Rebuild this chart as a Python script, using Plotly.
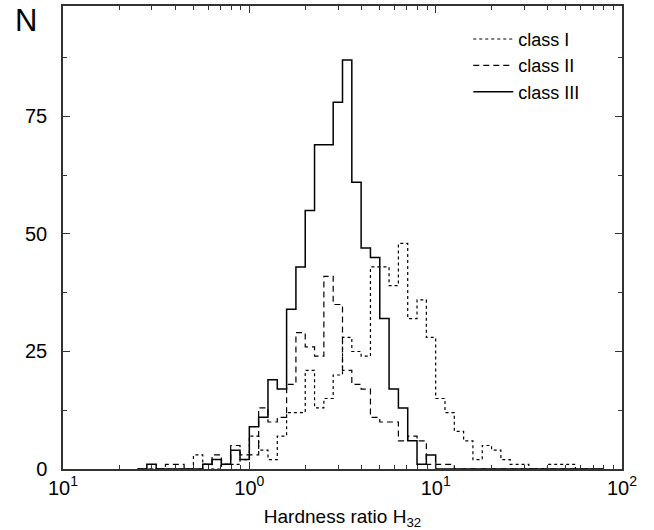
import plotly.graph_objects as go

# log10 bin index k (bin = [k*0.05, (k+1)*0.05] in log10 H32), k from -12 to 37
k_start = -12
bin_dex = 0.05

class_I = [0, 0, 0, 0, 0, 0, 3, 1, 0, 1, 1, 2,
           7, 4, 2, 7, 12, 12, 21, 13, 15, 20,
           28, 25, 24, 43, 43, 39, 48, 32, 36, 28,
           15, 12, 8, 6, 2, 5, 4, 2, 1, 1,
           0, 0, 1, 1, 1, 0, 0, 0]
class_II = [0, 0, 0, 1, 1, 0, 0, 1, 3, 1, 5, 3,
            3, 13, 10, 11, 18, 29, 26, 24, 41, 35,
            21, 18, 17, 11, 10, 10, 6, 7, 6, 1,
            1, 1, 0, 0, 0, 0, 0, 0, 0, 0,
            0, 0, 0, 0, 0, 0, 0, 0]
class_III = [0, 1, 0, 0, 0, 0, 0, 1, 2, 1, 4, 2,
             9, 11, 19, 17, 34, 43, 55, 69, 69, 78,
             87, 61, 47, 45, 32, 17, 13, 6, 1, 3,
             0, 0, 0, 0, 0, 0, 0, 0, 0, 0,
             0, 0, 0, 0, 0, 0, 0, 0]

series_names = ["class I", "class II", "class III"]
x_tickvals = [0.1, 1, 10, 100]
x_ticktext = ["10<sup>1</sup>", "10<sup>0</sup>", "10<sup>1</sup>", "10<sup>2</sup>"]
y_tickvals = [0, 25, 50, 75]
y_ticktext = ["0", "25", "50", "75"]

n = len(class_III)
edges = [10 ** ((k_start + i) * bin_dex) for i in range(n + 1)]

FONT = "Liberation Sans, Arial, Helvetica, sans-serif"
fig = go.Figure()
styles = [dict(dash="dot", width=1.2), dict(dash="6px,4px", width=1.2), dict(dash="solid", width=1.5)]
for name, vals, st in zip(series_names, [class_I, class_II, class_III], styles):
    fig.add_trace(go.Scatter(
        x=edges, y=list(vals) + [vals[-1]], mode="lines", name=name,
        line=dict(color="black", shape="hv", **st),
    ))

axis_common = dict(showline=True, linecolor="#333", linewidth=1.5, mirror="ticks",
                   ticks="inside", tickcolor="#333", tickwidth=1.2, showgrid=False,
                   zeroline=False, tickfont=dict(family=FONT, size=20, color="black"))
fig.update_xaxes(type="log", range=[-1, 2], tickmode="array", tickvals=x_tickvals,
                 ticktext=x_ticktext, ticklen=7,
                 minor=dict(ticks="inside", ticklen=4, dtick="D1", tickcolor="#333", showgrid=False),
                 title=dict(text="Hardness ratio H<sub>32</sub>", font=dict(family=FONT, size=19, color="black"),
                            standoff=14),
                 **axis_common)
fig.update_yaxes(range=[0, 98.5], tickmode="array", tickvals=y_tickvals, ticktext=y_ticktext,
                 ticklen=7, ticklabelstandoff=10,
                 minor=dict(ticks="inside", ticklen=4, dtick=12.5, tickcolor="#333", showgrid=False),
                 **axis_common)

fig.add_annotation(text="N", xref="paper", yref="paper", x=-0.043, y=1.01, xanchor="right", yanchor="top",
                   showarrow=False, font=dict(family=FONT, size=31, color="black"))

fig.update_layout(
    width=654, height=530,
    margin=dict(l=63, r=32, t=4, b=61),
    plot_bgcolor="white", paper_bgcolor="white",
    font=dict(family=FONT, color="black"),
    legend=dict(x=0.725, y=0.968, xanchor="left", yanchor="top", bgcolor="rgba(0,0,0,0)",
                font=dict(family=FONT, size=18, color="black"), tracegroupgap=0, itemwidth=40),
    showlegend=True,
)
fig.write_html("out.html")
